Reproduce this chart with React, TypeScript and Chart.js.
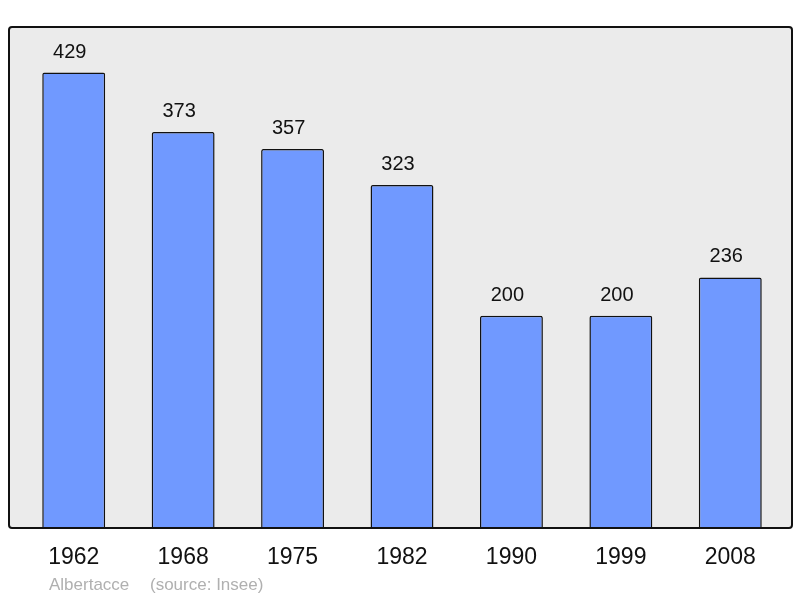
import React, { useEffect, useRef } from "react";
import { Chart, registerables } from "chart.js";

Chart.register(...registerables);

const years = ["1962", "1968", "1975", "1982", "1990", "1999", "2008"];
const population = [429, 373, 357, 323, 200, 200, 236];
const commune = "Albertacce";
const source = "(source: Insee)";

const FONT = '"Liberation Sans", Arial, sans-serif';

const boxPlugin = {
  id: "boxPlugin",
  beforeDatasetsDraw(chart: any) {
    const { ctx, chartArea } = chart;
    const l = chartArea.left - 10, r = chartArea.right + 7, t = chartArea.top, b = chartArea.bottom;
    ctx.save();
    ctx.beginPath();
    ctx.roundRect(l, t, r - l, b - t, 3);
    ctx.fillStyle = "#ebebeb";
    ctx.fill();
    ctx.restore();
  },
  afterDatasetsDraw(chart: any) {
    const { ctx, chartArea } = chart;
    const l = chartArea.left - 10, r = chartArea.right + 7, t = chartArea.top, b = chartArea.bottom;
    ctx.save();
    ctx.beginPath();
    ctx.roundRect(l, t, r - l, b - t, 3);
    ctx.strokeStyle = "#111";
    ctx.lineWidth = 2;
    ctx.stroke();
    const meta = chart.getDatasetMeta(0);
    ctx.fillStyle = "#111";
    ctx.font = `20px ${FONT}`;
    ctx.textAlign = "center";
    ctx.textBaseline = "alphabetic";
    meta.data.forEach((bar: any, i: number) => {
      ctx.fillText(String(population[i]), bar.x - 4, bar.y - 15);
    });
    ctx.fillStyle = "#b0b0b0";
    ctx.font = `17px ${FONT}`;
    ctx.textAlign = "left";
    ctx.fillText(commune, 49, 590);
    ctx.fillText(source, 150, 590);
    ctx.restore();
  },
};

export default function App() {
  const ref = useRef<HTMLCanvasElement>(null);
  useEffect(() => {
    const chart = new Chart(ref.current!, {
      type: "bar",
      data: {
        labels: years,
        datasets: [
          {
            data: population,
            backgroundColor: "#7099ff",
            borderColor: "#111",
            borderWidth: 1.5,
            borderRadius: 2,
            borderSkipped: "bottom",
            barPercentage: 0.575,
            categoryPercentage: 1,
          },
        ],
      },
      options: {
        responsive: false,
        animation: false,
        layout: { padding: { left: 19, right: 15, top: 27, bottom: 0 } },
        plugins: { legend: { display: false }, tooltip: { enabled: false } },
        scales: {
          x: {
            grid: { display: false },
            border: { display: false },
            ticks: { color: "#111", font: { size: 23, family: FONT }, padding: 8, maxRotation: 0 },
            afterFit(scale: any) {
              scale.height = 70;
            },
          },
          y: { display: false, min: 0, max: 471.9 },
        },
      },
      plugins: [boxPlugin],
    });
    return () => chart.destroy();
  }, []);
  return (
    <div style={{ position: "absolute", left: 0, top: 0, width: 800, height: 598, background: "#fff" }}>
      <canvas ref={ref} width={800} height={598} />
    </div>
  );
}
